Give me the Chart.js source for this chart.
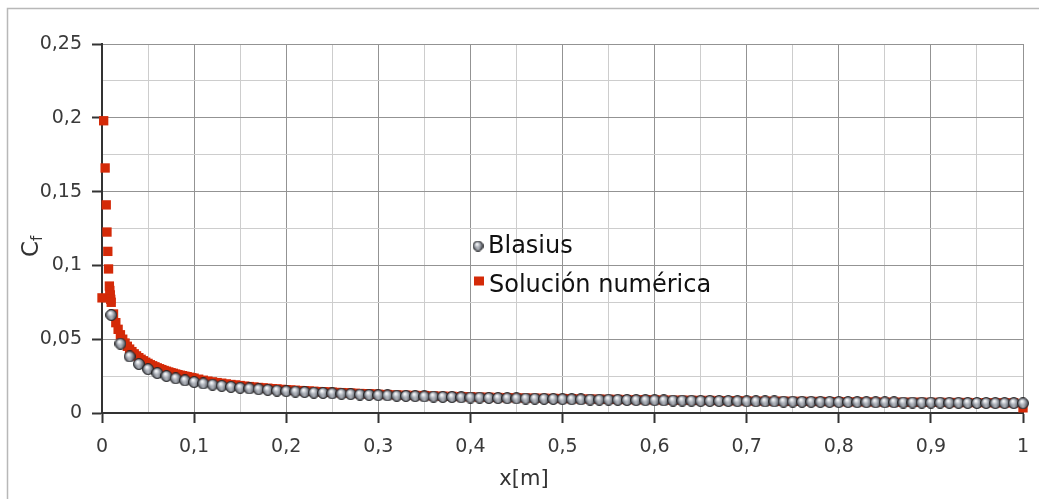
<!DOCTYPE html>
<html><head><meta charset="utf-8">
<script src="https://cdn.jsdelivr.net/npm/chart.js@4/dist/chart.umd.min.js"></script>
<style>html,body{margin:0;padding:0;background:#fff;overflow:hidden}#wrap{width:1039px;height:499px;position:relative}</style>
</head><body><div id="wrap"><canvas id="c" width="1039" height="499"></canvas></div>
<script>
const seriesNames = ['Blasius', 'Solución numérica'];
const xTitle = 'x[m]';
const yTitleMain = 'C';
const yTitleSub = 'f';
const xTickLabels = ['0','0,1','0,2','0,3','0,4','0,5','0,6','0,7','0,8','0,9','1'];
const yTickLabels = ['0','0,05','0,1','0,15','0,2','0,25'];

const blasiusX = [0.01,0.02,0.03,0.04,0.05,0.06,0.07,0.08,0.09,0.10,
0.11,0.12,0.13,0.14,0.15,0.16,0.17,0.18,0.19,0.20,
0.21,0.22,0.23,0.24,0.25,0.26,0.27,0.28,0.29,0.30,
0.31,0.32,0.33,0.34,0.35,0.36,0.37,0.38,0.39,0.40,
0.41,0.42,0.43,0.44,0.45,0.46,0.47,0.48,0.49,0.50,
0.51,0.52,0.53,0.54,0.55,0.56,0.57,0.58,0.59,0.60,
0.61,0.62,0.63,0.64,0.65,0.66,0.67,0.68,0.69,0.70,
0.71,0.72,0.73,0.74,0.75,0.76,0.77,0.78,0.79,0.80,
0.81,0.82,0.83,0.84,0.85,0.86,0.87,0.88,0.89,0.90,
0.91,0.92,0.93,0.94,0.95,0.96,0.97,0.98,0.99,1.00];
const blasiusY = [0.0664,0.0470,0.0383,0.0332,0.0297,0.0271,0.0251,0.0235,0.0221,0.0210,
0.0200,0.0192,0.0184,0.0177,0.0171,0.0166,0.0161,0.0157,0.0152,0.0148,
0.0145,0.0142,0.0138,0.0136,0.0133,0.0130,0.0128,0.0125,0.0123,0.0121,
0.0119,0.0117,0.0116,0.0114,0.0112,0.0111,0.0109,0.0108,0.0106,0.0105,
0.0104,0.0102,0.0101,0.0100,0.0099,0.0098,0.0097,0.0096,0.0095,0.0094,
0.0093,0.0092,0.0091,0.0090,0.0090,0.0089,0.0088,0.0087,0.0086,0.0086,
0.0085,0.0084,0.0084,0.0083,0.0082,0.0082,0.0081,0.0081,0.0080,0.0079,
0.0079,0.0078,0.0078,0.0077,0.0077,0.0076,0.0076,0.0075,0.0075,0.0074,
0.0074,0.0073,0.0073,0.0072,0.0072,0.0072,0.0071,0.0071,0.0070,0.0070,
0.0070,0.0069,0.0069,0.0068,0.0068,0.0068,0.0067,0.0067,0.0067,0.0066];

const numX = [0,0.0018,0.0034,0.0046,0.0054,0.0063,0.0071,0.008,0.0085,0.009,0.0095,
0.0100,0.0125,0.0150,0.0175,0.0200,0.0225,0.0250,0.0275,0.0300,0.0325,
0.0350,0.0375,0.0400,0.0425,0.0450,0.0475,0.0500,0.0525,0.0550,0.0575,
0.0600,0.0625,0.0650,0.0675,0.0700,0.0725,0.0750,0.0775,0.0800,0.0825,
0.0850,0.0875,0.0900,0.0925,0.0950,0.0975,
0.100,0.105,0.110,0.115,0.120,0.125,0.130,0.135,0.140,0.145,
0.150,0.155,0.160,0.165,0.170,0.175,0.180,0.185,0.190,0.195,
0.200,0.205,0.210,0.215,0.220,0.225,0.230,0.235,0.240,0.245,
0.250,0.255,0.260,0.265,0.270,0.275,0.280,0.285,0.290,0.295,0.300,
0.31,0.32,0.33,0.34,0.35,0.36,0.37,0.38,0.39,0.40,
0.41,0.42,0.43,0.44,0.45,0.46,0.47,0.48,0.49,0.50,
0.51,0.52,0.53,0.54,0.55,0.56,0.57,0.58,0.59,0.60,
0.61,0.62,0.63,0.64,0.65,0.66,0.67,0.68,0.69,0.70,
0.71,0.72,0.73,0.74,0.75,0.76,0.77,0.78,0.79,0.80,
0.81,0.82,0.83,0.84,0.85,0.86,0.87,0.88,0.89,0.90,
0.91,0.92,0.93,0.94,0.95,0.96,0.97,0.98,0.99,1.00];
const numY = [0.078,0.198,0.166,0.141,0.1226,0.1095,0.0976,0.086,0.083,0.080,0.077,
0.0750,0.0671,0.0612,0.0567,0.0530,0.0500,0.0474,0.0452,0.0433,0.0416,
0.0401,0.0387,0.0375,0.0364,0.0354,0.0344,0.0336,0.0327,0.0320,0.0313,
0.0306,0.0300,0.0294,0.0288,0.0283,0.0278,0.0273,0.0269,0.0264,0.0260,
0.0256,0.0253,0.0249,0.0246,0.0242,0.0239,
0.0236,0.0229,0.0222,0.0216,0.0211,0.0206,0.0202,0.0197,0.0193,0.0190,
0.0186,0.0182,0.0179,0.0176,0.0173,0.0170,0.0168,0.0165,0.0163,0.0160,
0.0158,0.0156,0.0154,0.0152,0.0151,0.0149,0.0147,0.0145,0.0144,0.0142,
0.0141,0.0139,0.0138,0.0136,0.0135,0.0133,0.0132,0.0131,0.0130,0.0128,0.0127,
0.0125,0.0123,0.0121,0.0119,0.0118,0.0116,0.0114,0.0113,0.0111,0.0110,
0.0108,0.0107,0.0105,0.0104,0.0103,0.0102,0.0101,0.0100,0.0099,0.0098,
0.0097,0.0096,0.0095,0.0094,0.0093,0.0092,0.0091,0.0090,0.0090,0.0089,
0.0088,0.0087,0.0087,0.0086,0.0085,0.0085,0.0084,0.0083,0.0083,0.0082,
0.0081,0.0081,0.0080,0.0080,0.0079,0.0079,0.0078,0.0078,0.0077,0.0077,
0.0076,0.0076,0.0075,0.0075,0.0074,0.0074,0.0073,0.0073,0.0073,0.0072,
0.0072,0.0071,0.0071,0.0071,0.0070,0.0070,0.0069,0.0069,0.0069,0.0035];

const FONT = '"DejaVu Sans", sans-serif';
const RED = '#d42a08';

function makeSphere(d) {
  const c = document.createElement('canvas');
  c.width = d; c.height = d;
  const g = c.getContext('2d');
  const r = d / 2;
  const rad = g.createRadialGradient(r * 0.8, r * 0.65, 0.3, r, r, r);
  rad.addColorStop(0, '#ffffff');
  rad.addColorStop(0.3, '#c4c8cf');
  rad.addColorStop(0.7, '#6e727a');
  rad.addColorStop(1, '#34363b');
  g.fillStyle = rad;
  g.beginPath(); g.arc(r, r, r - 0.5, 0, Math.PI * 2); g.fill();
  const low = g.createRadialGradient(r, r * 1.55, 0, r, r * 1.55, r * 0.55);
  low.addColorStop(0, 'rgba(200,204,212,0.7)');
  low.addColorStop(1, 'rgba(200,204,212,0)');
  g.fillStyle = low;
  g.beginPath(); g.arc(r, r, r - 0.5, 0, Math.PI * 2); g.fill();
  g.strokeStyle = 'rgba(35,35,38,0.9)';
  g.lineWidth = 1;
  g.beginPath(); g.arc(r, r, r - 0.5, 0, Math.PI * 2); g.stroke();
  return c;
}
const sphere = makeSphere(12);
const legendSphere = makeSphere(11);

const blasiusData = blasiusX.map((x, i) => ({x: x, y: blasiusY[i]}));
const numData = numX.map((x, i) => ({x: x, y: numY[i]}));

const gridOpts = {
  color: ctx => (ctx.index % 2 ? '#cdcdcd' : '#939393'),
  lineWidth: 1,
  tickLength: 10,
  tickColor: ctx => (ctx.index % 2 ? 'rgba(0,0,0,0)' : '#333333'),
  tickWidth: 2
};

const overlay = {
  id: 'overlay',
  afterDraw(chart) {
    const ctx = chart.ctx;
    ctx.save();
    ctx.strokeStyle = '#b8b8b8';
    ctx.lineWidth = 1.5;
    ctx.strokeRect(7.5, 8.5, 1100, 600);
    ctx.fillStyle = '#333333';
    ctx.font = '21px ' + FONT;
    ctx.textAlign = 'center';
    ctx.textBaseline = 'alphabetic';
    ctx.fillText(xTitle, 524, 485);
    ctx.save();
    ctx.translate(38, 257);
    ctx.rotate(-Math.PI / 2);
    ctx.textAlign = 'left';
    ctx.font = '23px ' + FONT;
    ctx.fillText(yTitleMain, 0, 0);
    const w = ctx.measureText(yTitleMain).width;
    ctx.font = '15px ' + FONT;
    ctx.fillText(yTitleSub, w, 4);
    ctx.restore();
    ctx.drawImage(legendSphere, 478 - 5.5, 246 - 5.5);
    ctx.fillStyle = RED;
    ctx.fillRect(474, 276.5, 10, 9);
    ctx.fillStyle = '#111111';
    ctx.font = '24px ' + FONT;
    ctx.textAlign = 'left';
    ctx.fillText(seriesNames[0], 488, 253);
    ctx.fillText(seriesNames[1], 489, 292);
    ctx.restore();
  }
};

new Chart(document.getElementById('c'), {
  type: 'scatter',
  data: {
    datasets: [
      {label: seriesNames[0], data: blasiusData, pointStyle: sphere, pointRadius: 6, clip: false, order: 0},
      {label: seriesNames[1], data: numData, pointStyle: 'rect', pointRadius: 6.6, backgroundColor: RED, borderWidth: 0, borderColor: RED, clip: false, order: 1}
    ]
  },
  options: {
    responsive: false,
    animation: false,
    devicePixelRatio: 1,
    events: [],
    layout: {autoPadding: false, padding: {left: 0, right: 16, top: 44, bottom: 0}},
    plugins: {legend: {display: false}, tooltip: {enabled: false}},
    scales: {
      x: {
        type: 'linear', min: 0, max: 1,
        grid: gridOpts,
        border: {color: '#333333', width: 2},
        ticks: {
          stepSize: 0.05, autoSkip: false, maxRotation: 0, minRotation: 0,
          padding: 13, color: '#3a3a3a', font: {family: FONT, size: 19},
          callback: (v, i) => (i % 2 ? '' : xTickLabels[i / 2])
        },
        afterFit: s => { s.height = 86; s.paddingRight = 0; s.paddingLeft = 0; }
      },
      y: {
        type: 'linear', min: 0, max: 0.25,
        grid: gridOpts,
        border: {color: '#333333', width: 2},
        ticks: {
          stepSize: 0.025, autoSkip: false,
          padding: 10, color: '#3a3a3a', font: {family: FONT, size: 19},
          callback: (v, i) => (i % 2 ? '' : yTickLabels[i / 2])
        },
        afterFit: s => { s.width = 102; s.paddingTop = 0; s.paddingBottom = 0; }
      }
    }
  },
  plugins: [overlay]
});
</script>
</body></html>
